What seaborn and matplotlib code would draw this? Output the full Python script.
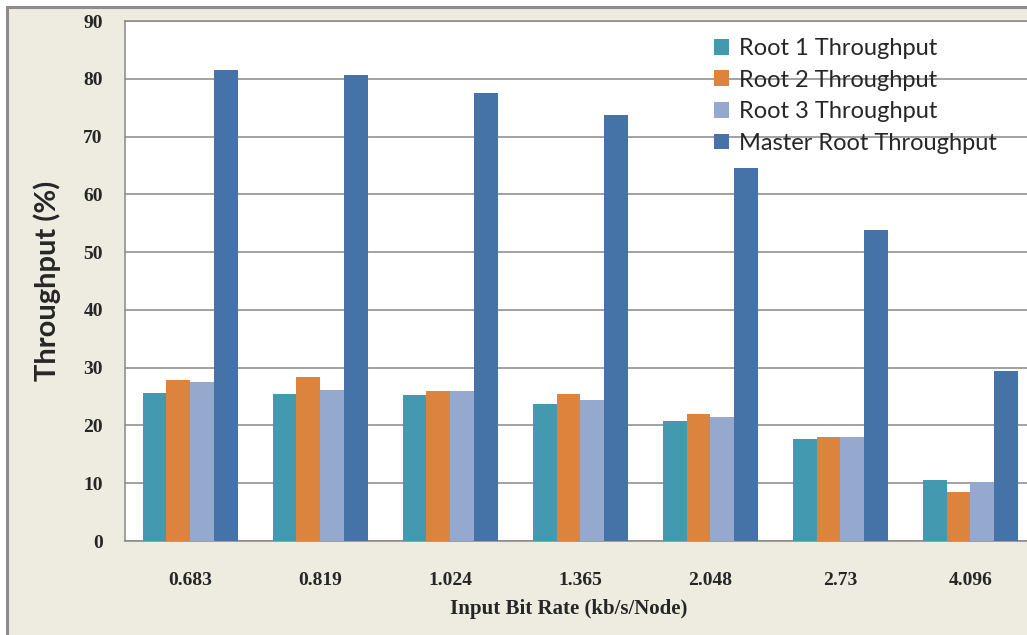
import matplotlib
matplotlib.use("Agg")
import matplotlib.pyplot as plt
from matplotlib.patches import Rectangle, Patch
import seaborn as sns
import pandas as pd

# Input bit rates (kb/s/Node) and throughput per root (%)
rates = ["0.683", "0.819", "1.024", "1.365", "2.048", "2.73", "4.096"]
root1 = [25.6, 25.5, 25.3, 23.7, 20.8, 17.7, 10.6]
root2 = [27.9, 28.4, 26.0, 25.5, 22.0, 18.0, 8.5]
root3 = [27.5, 26.2, 26.0, 24.4, 21.5, 18.0, 10.2]
master = [81.6, 80.6, 77.5, 73.8, 64.5, 53.9, 29.5]

series_names = ["Root 1 Throughput", "Root 2 Throughput",
                "Root 3 Throughput", "Master Root Throughput"]
colors = ["#4399B0", "#DC843E", "#95A9CF", "#4572A7"]
y_ticks = [0, 10, 20, 30, 40, 50, 60, 70, 80, 90]

rows = []
for name, vals in zip(series_names, [root1, root2, root3, master]):
    for r, v in zip(rates, vals):
        rows.append({"rate": r, "series": name, "value": v})
df = pd.DataFrame(rows)

sns.set_theme(style="white")

W, H = 1027, 635
fig = plt.figure(figsize=(W / 100, H / 100), dpi=100, facecolor="white")

# Chart area background with a grey frame
fig.patches.append(Rectangle((7 / W, -0.1), 1.2, 1 - 7 / H + 0.1,
                             transform=fig.transFigure, facecolor="#EEECE1",
                             edgecolor="#8C8C8C", linewidth=2.2, zorder=-10))

ax = fig.add_axes([125 / W, (H - 541) / H, (1035.5 - 125) / W, (541 - 21) / H])
ax.set_facecolor("white")

sns.barplot(data=df, x="rate", y="value", hue="series", order=rates,
            hue_order=series_names, palette=colors, width=0.73,
            saturation=1, ax=ax, legend=False, zorder=3, linewidth=0,
            edgecolor="none")

ax.set_xlim(-0.5, len(rates) - 0.5)
ax.set_ylim(0, 90)
ax.set_yticks(y_ticks)
ax.set_yticklabels([str(t) for t in y_ticks])
ax.yaxis.grid(True, color="#878787", linewidth=1.1, zorder=0)
ax.xaxis.grid(False)
ax.set_axisbelow(True)

for side in ["left", "bottom", "top"]:
    ax.spines[side].set_color("#878787")
    ax.spines[side].set_linewidth(1.1)
ax.spines["right"].set_visible(False)

serif = {"family": "Liberation Serif", "weight": "bold"}
ax.tick_params(axis="y", length=0, pad=16, labelsize=14)
ax.tick_params(axis="x", length=0, pad=22, labelsize=14)
for lab in ax.get_yticklabels() + ax.get_xticklabels():
    lab.set_fontfamily("Liberation Serif")
    lab.set_fontweight("bold")

ax.set_xlabel("Input Bit Rate (kb/s/Node)", fontsize=15, **serif)
ax.xaxis.set_label_coords((569 - 125) / 910.5, (541 - 599) / 520)
ax.set_ylabel("Throughput (%)", fontsize=21, family="Lato", weight="bold")
ax.yaxis.set_label_coords((61 - 125) / 910.5, 0.5)

handles = [Patch(facecolor=c, edgecolor="none") for c in colors]
fig.legend(handles, series_names, loc="upper left",
           bbox_to_anchor=(714 / W, 1 - 38 / H), frameon=False,
           prop={"family": "Lato", "size": 17}, handlelength=0.65,
           handleheight=0.65, handletextpad=0.4, labelspacing=0.45,
           borderaxespad=0, borderpad=0)

fig.savefig("out.png", dpi=100, facecolor=fig.get_facecolor())
